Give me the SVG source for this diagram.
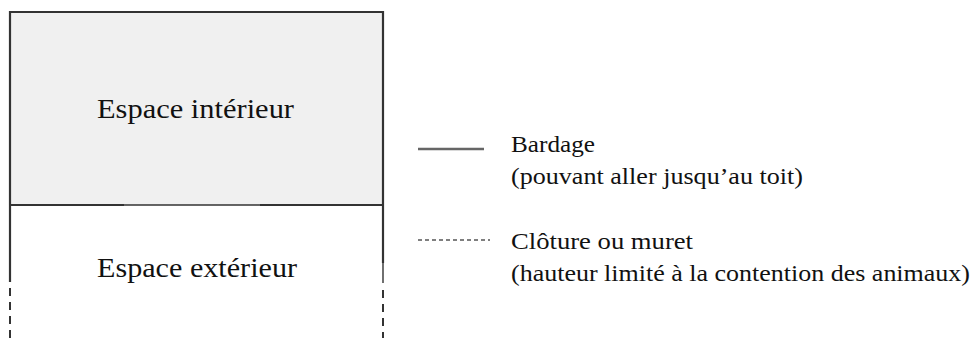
<svg xmlns="http://www.w3.org/2000/svg" width="976" height="338" viewBox="0 0 976 338">
<style>
.t{font-family:"Liberation Serif","Times New Roman",serif;fill:#111}
.big{font-size:28px}
.leg{font-size:22.5px}
.wall{stroke:#333;stroke-width:2.2;fill:none}
.thin{stroke:#333;stroke-width:1.4;fill:none}
.dash{stroke:#333;stroke-width:2;stroke-dasharray:8 6;fill:none}
</style>
<rect width="976" height="338" fill="#fff"/>
<g id="interieur">
<rect x="10" y="12" width="373" height="193" fill="#f0f0f0"/>
<text class="t big" x="97" y="118" textLength="197" lengthAdjust="spacingAndGlyphs">Espace intérieur</text>
</g>
<g id="exterieur">
<text class="t big" x="97" y="277" textLength="200" lengthAdjust="spacingAndGlyphs">Espace extérieur</text>
</g>
<g id="connectors">
<path class="wall" d="M10 205 V12 H383 V205"/>
<path class="wall" d="M10 205 H124 M260 205 H383"/>
<path class="thin" d="M124 205 H260"/>
<path class="wall" d="M10 205 V282"/>
<path class="wall" d="M383 205 V263"/>
<path class="thin" d="M383 263 V283"/>
<path class="dash" d="M10 288 V338"/>
<path class="dash" d="M383 290 V338"/>
</g>
<g id="legende">
<line x1="418" y1="149" x2="484" y2="149" stroke="#666" stroke-width="2.4"/>
<text class="t leg" x="511" y="152" textLength="84" lengthAdjust="spacingAndGlyphs">Bardage</text>
<text class="t leg" x="511" y="184" textLength="292" lengthAdjust="spacingAndGlyphs">(pouvant aller jusqu’au toit)</text>
<line x1="418" y1="240" x2="490" y2="240" stroke="#555" stroke-width="1.6" stroke-dasharray="4 3"/>
<text class="t leg" x="511" y="249" textLength="182" lengthAdjust="spacingAndGlyphs">Clôture ou muret</text>
<text class="t leg" x="511" y="281" textLength="459" lengthAdjust="spacingAndGlyphs">(hauteur limité à la contention des animaux)</text>
</g>
</svg>
